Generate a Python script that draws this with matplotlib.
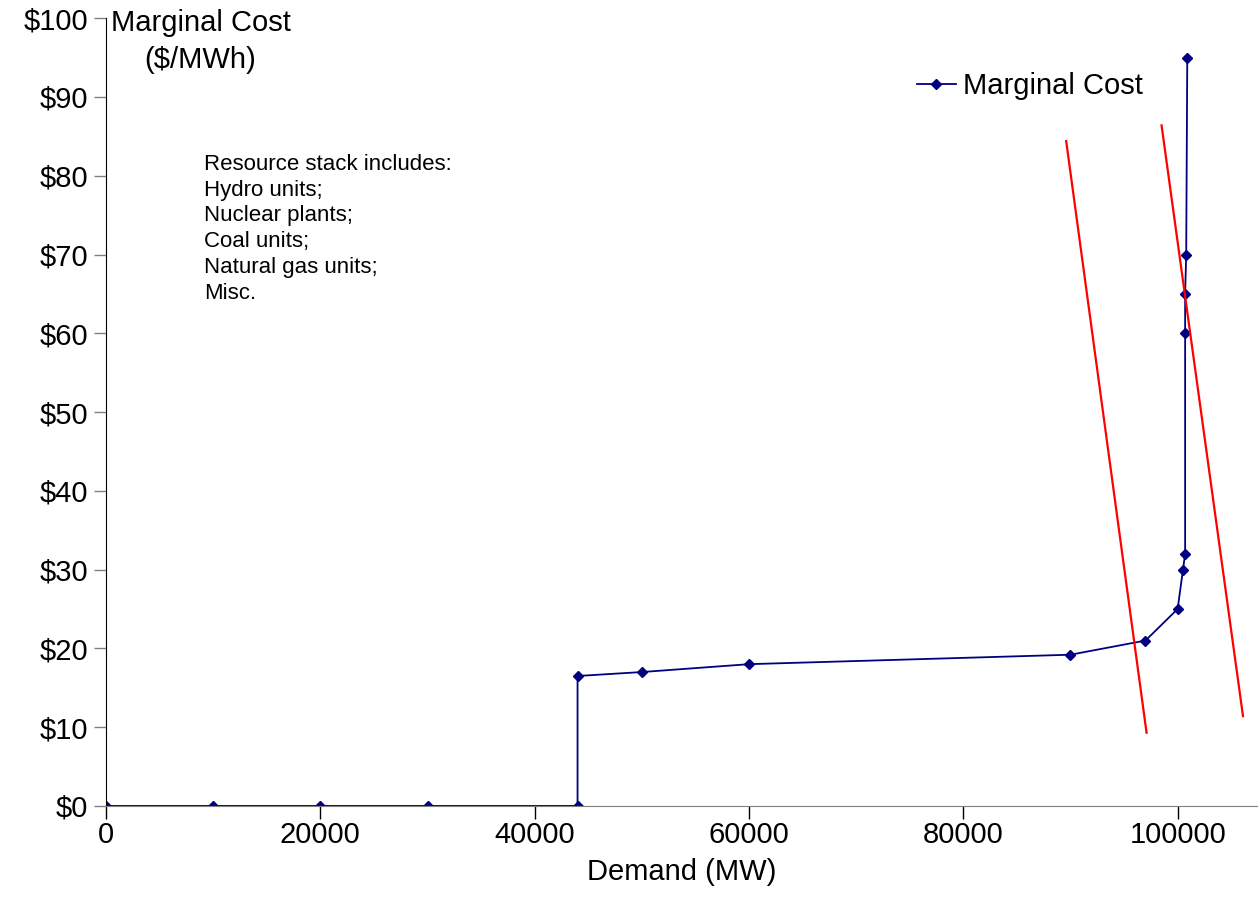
import matplotlib.pyplot as plt
import matplotlib.ticker as mticker

plt.rcParams["font.family"] = ["Liberation Sans", "DejaVu Sans"]

demand = [0, 10000, 20000, 30000, 44000, 44000, 50000, 60000, 90000, 97000,
          100000, 100500, 100700, 100700, 100700, 100800, 100900]
cost = [0, 0, 0, 0, 0, 16.5, 17, 18, 19.2, 21, 25, 30, 32, 60, 65, 70, 95]

# two demand curves (red)
demand_a_x = [89600, 97100]
demand_a_y = [84.4, 9.3]
demand_b_x = [98500, 106100]
demand_b_y = [86.4, 11.4]

stack_text = ["Resource stack includes:", "Hydro units;", "Nuclear plants;",
              "Coal units;", "Natural gas units;", "Misc."]

fig = plt.figure(figsize=(12.58, 9.11), dpi=100)
ax = fig.add_axes([0.0843, 0.1153, 0.9157, 0.8647])

ax.plot(demand, cost, color="#000080", lw=1.3, marker="D", ms=5.5,
        label="Marginal Cost")
ax.plot(demand_a_x, demand_a_y, color="red", lw=1.6)
ax.plot(demand_b_x, demand_b_y, color="red", lw=1.6)

ax.set_xlim(0, 107500)
ax.set_ylim(0, 100)
ax.set_xticks([0, 20000, 40000, 60000, 80000, 100000])
ax.set_yticks(range(0, 101, 10))
ax.yaxis.set_major_formatter(mticker.FuncFormatter(lambda v, p: f"${v:.0f}"))
ax.tick_params(labelsize=21, length=9, width=1)
ax.tick_params(axis="x", pad=1.5, color="black")
ax.tick_params(axis="y", colors="#808080", labelcolor="black", pad=4)
ax.spines["top"].set_visible(False)
ax.spines["right"].set_visible(False)
ax.spines["bottom"].set_color("#808080")
ax.spines["left"].set_color("black")

ax.set_xlabel("Demand (MW)", fontsize=21, labelpad=7)

fig.text(0.088, 0.975, "Marginal Cost", fontsize=21, va="center", ha="left")
fig.text(0.159, 0.934, "($/MWh)", fontsize=21, va="center", ha="center")

ax.text(0.085, 0.828, "\n".join(stack_text), transform=ax.transAxes,
        fontsize=16, va="top", ha="left", linespacing=1.3)

ax.legend(loc="center left", bbox_to_anchor=(0.681, 0.914), frameon=False,
          fontsize=21, handlelength=1.34, handletextpad=0.24)

fig.savefig("out.png", dpi=100)
